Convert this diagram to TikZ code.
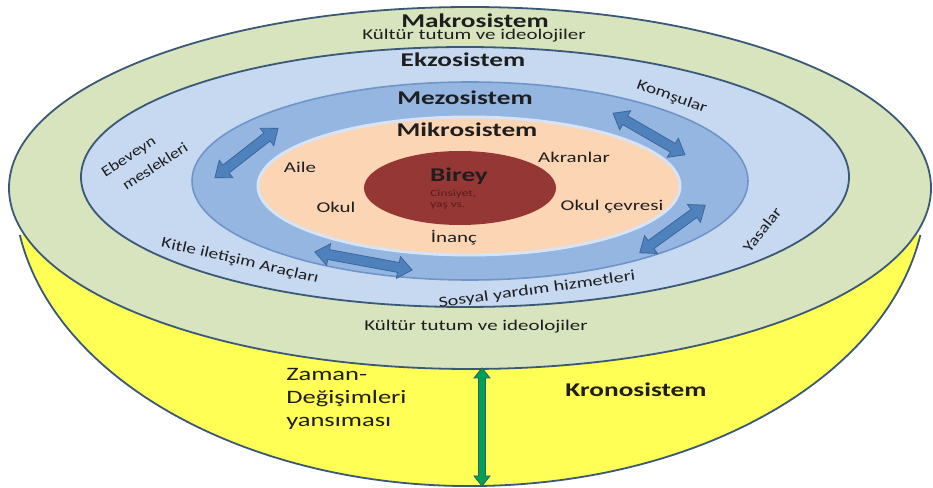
\documentclass[tikz,border=0pt]{standalone}
\usepackage{fontspec}
\setmainfont{Carlito}
\definecolor{macro}{HTML}{D7E4BD}
\definecolor{exo}{HTML}{C6D9F1}
\definecolor{meso}{HTML}{95B6E0}
\definecolor{mesoedge}{HTML}{6F95C8}
\definecolor{micro}{HTML}{FCD5B5}
\definecolor{self}{HTML}{953735}
\definecolor{bowl}{HTML}{FFFF55}
\definecolor{rimcol}{HTML}{3A5878}
\definecolor{ink}{HTML}{1E1E1E}
\definecolor{selfink}{HTML}{5E1A1A}
\definecolor{arrowblue}{HTML}{4F81BD}
\definecolor{arrowedge}{HTML}{3B679C}
\definecolor{timegreen}{HTML}{00A055}
\definecolor{timeedge}{HTML}{2B5E6E}
% horizontally widened lettering
\newcommand\wx[2][1.4]{\scalebox{#1}[1]{#2}}
\begin{document}
\begin{tikzpicture}[x=0.75pt,y=-0.75pt,
  rim/.style={draw=rimcol, line width=1.35pt},
  title/.style={font=\fontsize{14.6}{16}\selectfont\bfseries, text=ink, inner sep=0pt},
  lbl/.style={font=\fontsize{11.2}{13}\selectfont, text=ink, inner sep=0pt},
  bluearrow/.style={fill=arrowblue, draw=arrowedge, line width=0.6pt},
  pics/dblarrow/.style={code={
    \path[bluearrow] (-#1,0) -- (-#1+14,-11) -- (-#1+14,-5) -- (#1-14,-5)
      -- (#1-14,-11) -- (#1,0) -- (#1-14,11) -- (#1-14,5) -- (-#1+14,5)
      -- (-#1+14,11) -- cycle;
  }}]
\useasboundingbox (0,0) rectangle (933,488);
\fill[white] (0,0) rectangle (933,488);

% Kronosistem: the bowl under the rings
\fill[bowl] (19.8,235) arc[start angle=170.93, end angle=9.07, x radius=456, y radius=298] -- cycle;
\draw[rim] (19.8,235) arc[start angle=170.93, end angle=9.07, x radius=456, y radius=298];

% nested systems
\draw[rim, fill=macro] (470,188) ellipse[x radius=461, y radius=181];
\draw[rim, fill=exo] (465,177) ellipse[x radius=384, y radius=130];
\draw[draw=mesoedge, line width=1.2pt, fill=meso] (470,181) ellipse[x radius=278, y radius=99];
\draw[draw=exo!70!white, line width=2.2pt, fill=micro] (469,186) ellipse[x radius=211, y radius=69];
\fill[self] (460,188) ellipse[x radius=96, y radius=37];

% interaction arrows in the Mezosistem ring
\pic[rotate=38] (ul) at (246.5,153) {dblarrow=40};
\pic[rotate=-30] (ur) at (649,134) {dblarrow=41.5};
\pic[rotate=36] (lr) at (672.5,229) {dblarrow=40.5};
\pic[rotate=-10.5] (ll) at (363.5,261) {dblarrow=49.5};

% time axis
\coordinate (ttop) at (482,368);
\coordinate (tbot) at (482,486);
\path[fill=timegreen, draw=timeedge, line width=0.6pt]
  (ttop) -- ++(8,10) -- ++(-4.5,0) -- ++(0,98) -- ++(4.5,0) -- (tbot)
  -- ++(-8,-10) -- ++(4.5,0) -- ++(0,-98) -- ++(-4.5,0) -- cycle;

% titles and labels
\node[title] (makro) at (475,21) {\wx{Makrosistem}};
\node[lbl] (kultur1) at (474,36) {\wx{Kültür tutum ve ideolojiler}};
\node[title] (ekzo) at (463,60) {\wx{Ekzosistem}};
\node[title] (mezo) at (465,98) {\wx{Mezosistem}};
\node[title] (mikro) at (467,130) {\wx{Mikrosistem}};
\node[title] (birey) at (459,176) {\wx{Birey}};
\node[anchor=north west, inner sep=0pt, text=selfink,
      font=\fontsize{7.2}{8.4}\selectfont] (cins) at (430,188)
  {\wx{\begin{tabular}{@{}l@{}}Cinsiyet,\\yaş vs.\end{tabular}}};

\node[lbl] (aile) at (300,167) {\wx{Aile}};
\node[lbl] (akran) at (574,157) {\wx{Akranlar}};
\node[lbl] (okul) at (336,207) {\wx{Okul}};
\node[lbl] (cevre) at (612,207) {\wx{Okul çevresi}};
\node[lbl] (inanc) at (454,238) {\wx{İnanç}};

\node[lbl, rotate=-20] (komsu) at (672,97) {\wx[1.3]{Komşular}};
\node[lbl, rotate=52] (yasa) at (762,230) {\wx[1.25]{Yasalar}};
\node[lbl, rotate=33] (ebev) at (129,157) {\wx[1.2]{Ebeveyn}};
\node[lbl, rotate=33] (meslek) at (155,166) {\wx[1.2]{meslekleri}};
\node[lbl, rotate=-13] (kitle) at (240,261) {\wx[1.3]{Kitle iletişim Araçları}};
\node[lbl, rotate=8] (sosyal) at (537,290) {\wx[1.35]{Sosyal yardım hizmetleri}};

\node[lbl] (kultur2) at (476,327) {\wx{Kültür tutum ve ideolojiler}};
\node[anchor=west, inner sep=0pt, text=ink, font=\fontsize{14.2}{17.2}\selectfont] (zaman) at (286,399)
  {\wx{\begin{tabular}{@{}l@{}}Zaman-\\Değişimleri\\yansıması\end{tabular}}};
\node[title] (krono) at (636,390) {\wx{Kronosistem}};
\end{tikzpicture}
\end{document}
